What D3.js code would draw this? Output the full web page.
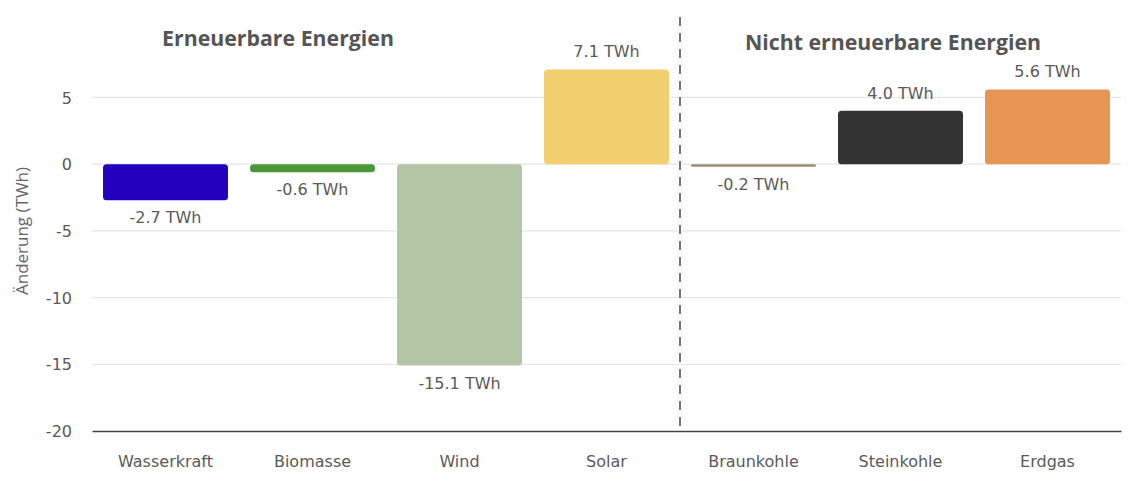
<!DOCTYPE html>
<html><head><meta charset="utf-8">
<script src="https://cdn.jsdelivr.net/npm/d3@7"></script>
<style>
html,body{margin:0;padding:0;background:#fff;}
svg{display:block;}
</style></head>
<body><svg id="c" width="1144" height="500"></svg>
<script>
const categories = ["Wasserkraft","Biomasse","Wind","Solar","Braunkohle","Steinkohle","Erdgas"];
const values = [-2.7, -0.6, -15.1, 7.1, -0.2, 4.0, 5.6];
const colors = ["#2400be","#4a983a","#b3c5a5","#f2cf6f","#9d8b74","#333333","#e69652"];
const yTicks = [5, 0, -5, -10, -15, -20];
const groupTitles = ["Erneuerbare Energien","Nicht erneuerbare Energien"];
const yLabel = "Änderung (TWh)";

const svg = d3.select("#c");
const x = d3.scaleBand().domain(categories).range([92, 1121]).paddingInner(0.15).paddingOuter(0.075);
const y = d3.scaleLinear().domain([-20, 12]).range([431, 4]);

// grid
svg.append("g").selectAll("line").data(yTicks.filter(t => t !== -20)).join("line")
  .attr("x1", 92).attr("x2", 1121)
  .attr("y1", d => y(d)).attr("y2", d => y(d))
  .attr("stroke", "#e6e6e6").attr("stroke-width", 1.2);

// y tick labels
const yAxis = d3.axisLeft(y).tickValues(yTicks).tickSize(0).tickPadding(0).tickFormat(d3.format("d"));
const ya = svg.append("g").attr("transform", "translate(72,0)").call(yAxis);
ya.select(".domain").remove();
ya.selectAll("text").attr("font-family", "DejaVu Sans").attr("font-size", 16).attr("fill", "#5a5a5a")
  .attr("dy", "0.35em").text(d => d < 0 ? "-" + Math.abs(d) : d);

// bottom axis
const xa = svg.append("g").attr("transform", `translate(0,${y(-20)})`)
  .call(d3.axisBottom(x).tickSize(0).tickPadding(25));
xa.select(".domain").attr("stroke", "#444").attr("stroke-width", 1.6);
xa.selectAll("text").attr("font-family", "DejaVu Sans").attr("font-size", 16).attr("fill", "#5a5a5a");

// bars
function roundedRect(x0, y0, w, h, r) {
  r = Math.min(r, h / 2, w / 2);
  return `M${x0+r},${y0}H${x0+w-r}Q${x0+w},${y0} ${x0+w},${y0+r}V${y0+h-r}Q${x0+w},${y0+h} ${x0+w-r},${y0+h}H${x0+r}Q${x0},${y0+h} ${x0},${y0+h-r}V${y0+r}Q${x0},${y0} ${x0+r},${y0}Z`;
}
const data = categories.map((c, i) => ({c, v: values[i], col: colors[i]}));
svg.append("g").selectAll("path").data(data).join("path")
  .attr("d", d => {
    const y0 = Math.min(y(0), y(d.v)), h = Math.abs(y(d.v) - y(0));
    return roundedRect(x(d.c), y0, x.bandwidth(), h, 3.5);
  })
  .attr("fill", d => d.col);

// value labels
svg.append("g").selectAll("text").data(data).join("text")
  .attr("x", d => x(d.c) + x.bandwidth() / 2)
  .attr("y", d => d.v >= 0 ? y(d.v) - 12 : y(d.v) + 23)
  .attr("text-anchor", "middle")
  .attr("font-family", "DejaVu Sans").attr("font-size", 16).attr("fill", "#5a5a5a")
  .text(d => d.v.toFixed(1) + " TWh");

// divider
const xd = x(categories[4]) - x.step() * x.paddingInner() / 2;
svg.append("line").attr("x1", xd).attr("x2", xd).attr("y1", 17).attr("y2", y(-20))
  .attr("stroke", "#777").attr("stroke-width", 2).attr("stroke-dasharray", "9,7");

// group titles
svg.append("text").attr("x", 278).attr("y", 46).attr("text-anchor", "middle")
  .attr("font-family", "Open Sans").attr("font-weight", 700).attr("font-size", 21.3).attr("fill", "#555")
  .text(groupTitles[0]);
svg.append("text").attr("x", 893).attr("y", 50).attr("text-anchor", "middle")
  .attr("font-family", "Open Sans").attr("font-weight", 700).attr("font-size", 21.3).attr("fill", "#555")
  .text(groupTitles[1]);

// y label
svg.append("text").attr("transform", "translate(28,231) rotate(-90)").attr("text-anchor", "middle")
  .attr("font-family", "Open Sans").attr("font-size", 17).attr("fill", "#666")
  .text(yLabel);
</script></body></html>
